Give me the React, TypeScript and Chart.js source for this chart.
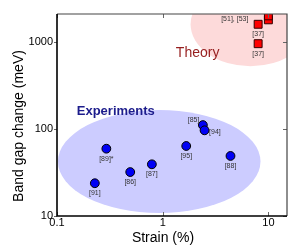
import React, { useEffect, useRef } from 'react';
import { Chart, registerables } from 'chart.js';
Chart.register(...registerables);

const expLabels = ['[91]', '[89]*', '[86]', '[87]', '[95]', '[85]', '[94]', '[88]'];
const expStrain = [0.228, 0.293, 0.493, 0.79, 1.67, 2.4, 2.49, 4.38];
const expGap = [23.8, 59.4, 32, 39.3, 63.8, 111, 96.6, 49];
const expLabelPlacement = ['below', 'below', 'below', 'below', 'below', 'aboveLeft', 'right', 'below'];

const theoryLabels = ['[37]', '[37]', '[51], [53]', ''];
const theoryStrain = [8, 8, 10, 10];
const theoryGap = [1600, 957, 1800, 2000];
const theoryLabelPlacement = ['below', 'below', 'left', 'none'];

const xTicks = [0.1, 1, 10];
const yTicks = [10, 100, 1000];
const xRange = [0.1, 15];
const yRange = [10, 2100];

const regionNames = ['Experiments', 'Theory'];
const regionCenterStrain = [0.927, 6.76];
const regionCenterGap = [42.3, 1600];
const regionHalfWidthDecades = [0.958, 0.566];
const regionHalfHeightDecades = [0.592, 0.483];
const regionTitleStrain = [0.36, 2.14];
const regionTitleGap = [158, 748];

const FONT = "'Liberation Sans', Arial, sans-serif";

export default function App() {
  const ref = useRef<HTMLCanvasElement>(null);
  useEffect(() => {
    document.body.style.margin = '0';
    const canvas = ref.current!;
    const regionsPlugin = {
      id: 'regions',
      beforeDatasetsDraw(chart: any) {
        const { ctx, chartArea: a, scales } = chart;
        const xs = scales.x, ys = scales.y;
        ctx.save();
        ctx.beginPath();
        ctx.rect(a.left, a.top, a.right - a.left, a.bottom - a.top);
        ctx.clip();
        const fills = ['rgb(204,204,255)', 'rgb(253,218,218)'];
        regionNames.forEach((_, i) => {
          const cx = xs.getPixelForValue(regionCenterStrain[i]);
          const cy = ys.getPixelForValue(regionCenterGap[i]);
          const rx = xs.getPixelForValue(regionCenterStrain[i] * Math.pow(10, regionHalfWidthDecades[i])) - cx;
          const ry = cy - ys.getPixelForValue(regionCenterGap[i] * Math.pow(10, regionHalfHeightDecades[i]));
          ctx.beginPath();
          ctx.ellipse(cx, cy, rx, ry, 0, 0, Math.PI * 2);
          ctx.fillStyle = fills[i];
          ctx.fill();
        });
        ctx.textAlign = 'center';
        ctx.textBaseline = 'middle';
        regionNames.forEach((name, i) => {
          const x = xs.getPixelForValue(regionTitleStrain[i]);
          const y = ys.getPixelForValue(regionTitleGap[i]);
          if (i === 0) {
            ctx.font = `bold 13px ${FONT}`;
            ctx.fillStyle = 'rgb(28,28,140)';
          } else {
            ctx.font = `14px ${FONT}`;
            ctx.fillStyle = 'rgb(150,30,30)';
          }
          ctx.fillText(name, x, y);
        });
        ctx.restore();
      },
      afterDatasetsDraw(chart: any) {
        const { ctx } = chart;
        ctx.save();
        ctx.font = `7px ${FONT}`;
        ctx.fillStyle = '#333';
        ctx.textBaseline = 'middle';
        const sets = [
          { labels: expLabels, place: expLabelPlacement },
          { labels: theoryLabels, place: theoryLabelPlacement },
        ];
        sets.forEach((s, di) => {
          const meta = chart.getDatasetMeta(di);
          s.labels.forEach((lab, j) => {
            const el = meta.data[j];
            const p = s.place[j];
            if (!lab || p === 'none') return;
            let x = el.x, y = el.y;
            if (p === 'below') { ctx.textAlign = 'center'; y += 10; }
            else if (p === 'aboveLeft') { ctx.textAlign = 'right'; x -= 3.5; y -= 5; }
            else if (p === 'right') { ctx.textAlign = 'left'; x += 4.5; y += 2; }
            else if (p === 'left') { ctx.textAlign = 'right'; x -= 20; y -= 0.5; }
            ctx.fillText(lab, x, y);
          });
        });
        ctx.restore();
      },
      afterDraw(chart: any) {
        const { ctx, chartArea: a, scales } = chart;
        ctx.save();
        // ticks
        ctx.strokeStyle = '#666';
        ctx.lineWidth = 1;
        xTicks.forEach((v) => {
          const x = Math.round(scales.x.getPixelForValue(v)) + 0.5;
          ctx.beginPath();
          ctx.moveTo(x, a.bottom); ctx.lineTo(x, a.bottom - 4);
          ctx.moveTo(x, a.top); ctx.lineTo(x, a.top + 4);
          ctx.stroke();
        });
        yTicks.forEach((v) => {
          const y = Math.round(scales.y.getPixelForValue(v)) + 0.5;
          ctx.beginPath();
          ctx.moveTo(a.left - 3, y); ctx.lineTo(a.left, y);
          ctx.moveTo(a.right, y); ctx.lineTo(a.right - 4, y);
          ctx.stroke();
        });
        // frame
        ctx.strokeStyle = '#444';
        ctx.lineWidth = 1.2;
        ctx.beginPath();
        ctx.moveTo(a.left, a.top); ctx.lineTo(a.right, a.top); ctx.lineTo(a.right, a.bottom);
        ctx.stroke();
        ctx.strokeStyle = '#000';
        ctx.lineWidth = 1.6;
        ctx.beginPath();
        ctx.moveTo(a.left, a.top); ctx.lineTo(a.left, a.bottom); ctx.lineTo(a.right, a.bottom);
        ctx.stroke();
        // axis titles
        ctx.fillStyle = '#000';
        ctx.font = `14px ${FONT}`;
        ctx.textAlign = 'center';
        ctx.textBaseline = 'middle';
        ctx.fillText('Strain (%)', (a.left + a.right) / 2 - 9, 238);
        ctx.translate(19, 126);
        ctx.rotate(-Math.PI / 2);
        ctx.fillText('Band gap change (meV)', 0, 0);
        ctx.restore();
      },
    };

    const chart = new Chart(canvas, {
      type: 'scatter',
      data: {
        datasets: [
          {
            data: expStrain.map((x, i) => ({ x, y: expGap[i] })),
            backgroundColor: 'rgb(0,0,245)',
            borderColor: '#000',
            borderWidth: 1,
            pointRadius: 4.4,
            pointStyle: 'circle',
          },
          {
            data: theoryStrain.map((x, i) => ({ x, y: theoryGap[i] })),
            backgroundColor: 'rgb(255,0,0)',
            borderColor: '#300',
            borderWidth: 1,
            pointRadius: 5.6,
            pointStyle: 'rect',
            clip: 0,
          },
        ],
      },
      options: {
        animation: false,
        responsive: false,
        layout: { padding: { top: 14, right: 13, left: 0, bottom: 0 } },
        plugins: { legend: { display: false }, tooltip: { enabled: false } },
        scales: {
          x: {
            type: 'logarithmic',
            min: xRange[0],
            max: xRange[1],
            afterBuildTicks: (s: any) => { s.ticks = xTicks.map((v) => ({ value: v })); },
            afterFit: (s: any) => { s.height = 35; },
            ticks: {
              callback: (v: any) => String(v),
              font: { size: 11, family: FONT },
              color: '#000',
              padding: 0,
              maxRotation: 0,
              autoSkip: false,
            },
            grid: { display: false, drawTicks: false },
            border: { display: false },
          },
          y: {
            type: 'logarithmic',
            min: yRange[0],
            max: yRange[1],
            afterBuildTicks: (s: any) => { s.ticks = yTicks.map((v) => ({ value: v })); },
            afterFit: (s: any) => { s.width = 57; },
            ticks: {
              callback: (v: any) => String(v),
              font: { size: 11, family: FONT },
              color: '#000',
              padding: 4,
              autoSkip: false,
            },
            grid: { display: false, drawTicks: false },
            border: { display: false },
          },
        },
      },
      plugins: [regionsPlugin],
    } as any);
    return () => chart.destroy();
  }, []);
  return <canvas ref={ref} width={300} height={251} style={{ display: 'block' }} />;
}
